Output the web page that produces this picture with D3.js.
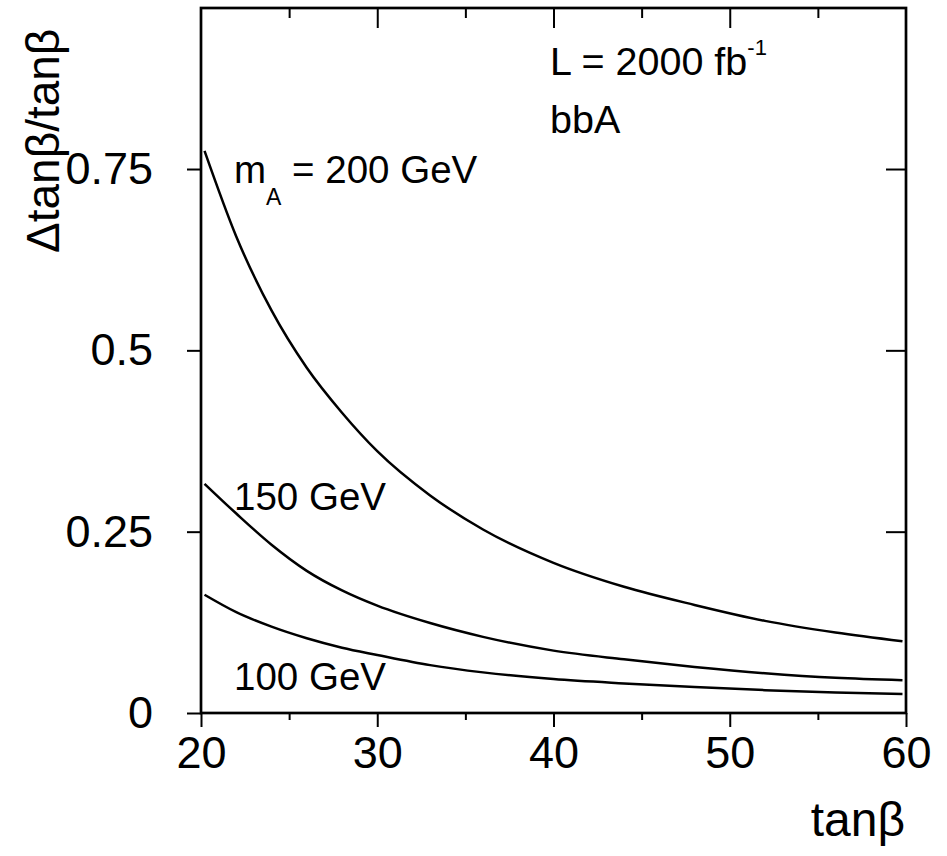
<!DOCTYPE html>
<html>
<head>
<meta charset="utf-8">
<script src="https://cdn.jsdelivr.net/npm/d3@7"></script>
<style>
  html, body { margin: 0; padding: 0; background: #fff; }
  svg { display: block; }
  text { font-family: "Liberation Sans", Arial, sans-serif; fill: #000; }
</style>
</head>
<body>
<svg id="chart" width="947" height="856"></svg>
<script>
// tanβ sample points and Δtanβ/tanβ for each Higgs mass (bbA, L = 2000 fb^-1)
const tanBeta = [20.2, 22, 24, 26, 28, 30, 33, 36, 40, 44, 48, 52, 56, 59.8];
const mA200 = [0.775, 0.657, 0.555, 0.476, 0.414, 0.361, 0.300, 0.253, 0.207, 0.174, 0.149, 0.127, 0.111, 0.099];
const mA150 = [0.316, 0.275, 0.232, 0.196, 0.169, 0.148, 0.124, 0.105, 0.086, 0.074, 0.0635, 0.0548, 0.0485, 0.0453];
const mA100 = [0.163, 0.139, 0.119, 0.103, 0.090, 0.080, 0.066, 0.056, 0.0468, 0.0408, 0.0358, 0.0315, 0.0283, 0.0262];

const xMajorTicks = [20, 30, 40, 50, 60];
const xMinorTicks = [25, 35, 45, 55];
const yTicks = [0, 0.25, 0.5, 0.75];
const yTickLabels = ["0", "0.25", "0.5", "0.75"];

const svg = d3.select("#chart");
const plotLeft = 201, plotRight = 906, plotTop = 8, plotBottom = 713;

const x = d3.scaleLinear().domain([20, 60]).range([plotLeft, plotRight]);
const y = d3.scaleLinear().domain([0, 0.972]).range([plotBottom, plotTop]);

const tickFont = 45;

function styleAxis(g, width) {
  g.select(".domain").remove();
  g.selectAll(".tick line").attr("stroke", "#000").attr("stroke-width", width);
  g.selectAll(".tick text").style("font-size", tickFont + "px").attr("fill", "#000");
}

// bottom axis: major ticks with labels, minor ticks outward
svg.append("g")
  .attr("transform", `translate(0,${plotBottom})`)
  .call(d3.axisBottom(x).tickValues(xMajorTicks).tickSize(14).tickPadding(9).tickFormat(d3.format("d")))
  .call(g => styleAxis(g, 2));
svg.append("g")
  .attr("transform", `translate(0,${plotBottom})`)
  .call(d3.axisBottom(x).tickValues(xMinorTicks).tickSize(7).tickFormat(""))
  .call(g => styleAxis(g, 2));

// top axis: inward ticks
svg.append("g")
  .attr("transform", `translate(0,${plotTop})`)
  .call(d3.axisTop(x).tickValues([30, 40, 50]).tickSize(-20).tickFormat(""))
  .call(g => styleAxis(g, 2));
svg.append("g")
  .attr("transform", `translate(0,${plotTop})`)
  .call(d3.axisTop(x).tickValues(xMinorTicks).tickSize(-10).tickFormat(""))
  .call(g => styleAxis(g, 2));

// left axis
svg.append("g")
  .attr("transform", `translate(${plotLeft},0)`)
  .call(d3.axisLeft(y).tickValues(yTicks).tickSize(14).tickPadding(34)
        .tickFormat((d, i) => yTickLabels[i]))
  .call(g => styleAxis(g, 2));

// right axis: inward ticks
svg.append("g")
  .attr("transform", `translate(${plotRight},0)`)
  .call(d3.axisRight(y).tickValues(yTicks.slice(1)).tickSize(-20).tickFormat(""))
  .call(g => styleAxis(g, 2));

// frame
svg.append("rect")
  .attr("x", plotLeft).attr("y", plotTop)
  .attr("width", plotRight - plotLeft).attr("height", plotBottom - plotTop)
  .attr("fill", "none").attr("stroke", "#000").attr("stroke-width", 2.7);

// curves
const line = d3.line()
  .x(d => x(d[0]))
  .y(d => y(d[1]))
  .curve(d3.curveMonotoneX);

[mA200, mA150, mA100].forEach(series => {
  svg.append("path")
    .datum(tanBeta.map((t, i) => [t, series[i]]))
    .attr("d", line)
    .attr("fill", "none")
    .attr("stroke", "#000")
    .attr("stroke-width", 2.5);
});

// curve labels
const labelFont = 38.5;
const mLabel = svg.append("text")
  .attr("x", 234).attr("y", 183)
  .style("font-size", labelFont + "px");
mLabel.append("tspan").text("m");
mLabel.append("tspan").attr("dy", 22).style("font-size", "23px").text("A");
mLabel.append("tspan").attr("dy", -22).text(" = 200 GeV");

svg.append("text").attr("x", 234).attr("y", 510)
  .style("font-size", labelFont + "px").text("150 GeV");
svg.append("text").attr("x", 234).attr("y", 690)
  .style("font-size", labelFont + "px").text("100 GeV");

// luminosity and channel annotations
const lum = svg.append("text")
  .attr("x", 550).attr("y", 75)
  .style("font-size", "39.5px");
lum.append("tspan").text("L = 2000 fb");
lum.append("tspan").attr("dy", -20).style("font-size", "22px").text("-1");

svg.append("text").attr("x", 550).attr("y", 133)
  .style("font-size", "39.5px").text("bbA");

// axis titles
svg.append("text")
  .attr("x", 905).attr("y", 836)
  .attr("text-anchor", "end")
  .style("font-size", "48px")
  .text("tanβ");

svg.append("text")
  .attr("transform", "translate(59,253) rotate(-90)")
  .attr("text-anchor", "start")
  .style("font-size", "46px")
  .text("Δtanβ/tanβ");
</script>
</body>
</html>
